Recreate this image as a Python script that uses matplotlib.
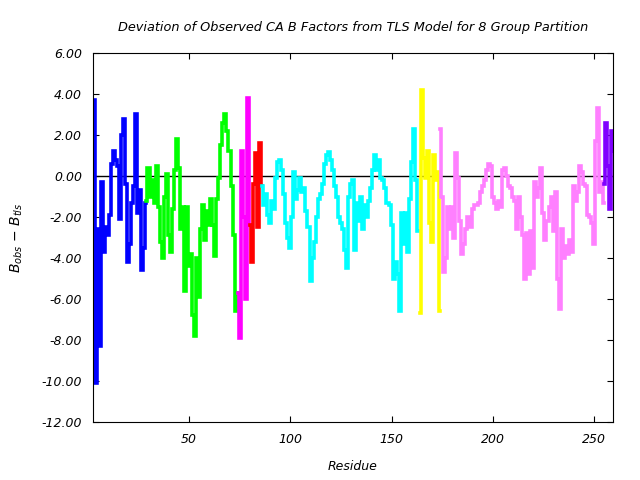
import numpy as np
import matplotlib
matplotlib.use("Agg")
import matplotlib.pyplot as plt

# residue ranges and B_obs - B_tls deviations, one list per TLS group
blue_res = np.arange(3, 30)
blue_dev = [3.7, -10.1, -2.6, -8.3, -0.3, -3.7, -2.5, -2.9, -1.9, 0.6,
            1.2, 0.8, 0.5, -2.1, 2.0, 2.8, -0.4, -4.2, -3.3, -1.3,
            -0.5, 3.0, -1.8, -0.7, -4.6, -3.5, -1.3]

green_res = np.arange(29, 75)
green_dev = [-1.2, 0.4, -1.0, -0.2, -1.3, 0.5, -1.5, -3.2, -4.0, -1.0,
             0.1, -2.9, -3.7, -1.6, 0.3, 1.8, 0.4, -2.6, -1.5, -5.6,
             -1.5, -4.4, -3.8, -6.8, -7.8, -4.0, -5.9, -2.6, -1.4, -3.1,
             -1.7, -2.4, -1.1, -2.4, -3.9, -1.1, -0.1, 1.5, 2.6, 3.0,
             2.2, 1.2, -0.5, -2.9, -6.6, -5.7]

magenta_res = np.arange(74, 81)
magenta_dev = [-5.7, -7.9, 1.2, -2.0, -6.0, 3.8, -2.4]

red_res = np.arange(80, 87)
red_dev = [-2.4, -4.2, -0.4, 1.1, -2.5, 1.6, -0.5]

cyan_res = np.arange(86, 164)
cyan_dev = [-0.5, -1.4, -0.9, -1.9, -2.3, -1.2, -1.6, -0.1, 0.7, 0.8,
            0.3, -0.9, -2.3, -3.0, -3.5, -2.0, 0.2, -1.1, -0.7, -0.1,
            -0.8, -0.6, -1.7, -2.5, -5.1, -4.0, -3.2, -2.0, -1.1, -0.9,
            -0.4, 0.6, 1.0, 1.17, 0.8, 0.3, -0.5, -1.0, -2.0, -2.3,
            -2.6, -3.6, -4.5, -1.0, -0.4, -0.2, -3.6, -1.3, -2.2, -1.0,
            -2.6, -1.4, -2.0, -1.2, -0.6, 0.3, 1.0, 0.3, 0.8, -0.1,
            -0.2, -0.6, -1.3, -1.4, -2.4, -5.0, -4.2, -4.8, -6.6, -1.8,
            -3.3, -1.8, -3.7, -1.1, 0.7, 2.3, -0.2, -2.7]

yellow_res = np.arange(164, 175)
yellow_dev = [-6.7, 4.2, 0.9, -0.1, 1.2, -2.3, -3.2, 1.0, -0.2, 0.2, -6.6]

violet_res = np.arange(174, 256)
violet_dev = [2.3, -1.0, -4.7, -4.0, -1.5, -2.6, -1.5, -3.0, 1.1, -0.1,
              -2.2, -3.8, -3.3, -2.6, -2.0, -2.5, -1.6, -1.4, -1.4, -1.3,
              -0.8, -0.5, -0.2, 0.3, 0.6, 0.5, -1.0, -1.3, -1.6, -1.2,
              -1.5, 0.3, 0.4, 0.0, -0.5, -0.6, -1.0, -1.2, -2.6, -1.0,
              -2.0, -2.9, -5.0, -2.8, -4.8, -2.7, -4.5, -0.3, -1.0, -0.6,
              0.4, -1.8, -3.1, -2.2, -1.5, -1.0, -2.7, -0.8, -5.0, -6.5,
              -2.6, -4.0, -3.4, -3.8, -3.1, -3.7, -0.5, -1.2, -0.8, 0.5,
              0.2, -0.4, -0.5, -1.9, -2.0, -2.3, -3.3, 1.7, 3.3, -0.8,
              -0.3, -1.3]

purple_res = np.arange(255, 261)
purple_dev = [-0.4, 2.6, 0.5, -1.6, 2.2, 1.2]

groups = [
    (blue_res, blue_dev, "#0000ff"),
    (green_res, green_dev, "#00ff00"),
    (magenta_res, magenta_dev, "#ff00ff"),
    (red_res, red_dev, "#ff0000"),
    (cyan_res, cyan_dev, "#00ffff"),
    (yellow_res, yellow_dev, "#ffff00"),
    (violet_res, violet_dev, "#ff80ff"),
    (purple_res, purple_dev, "#8000ff"),
]

fig = plt.figure(figsize=(6.4, 4.8), dpi=100)
ax = fig.add_axes([0.1453, 0.1208, 0.8127, 0.7688])

ax.axhline(0, color="black", lw=1, zorder=1)
for res, dev, col in groups:
    ax.plot(res, dev, color=col, lw=2.6, drawstyle="steps-mid",
            solid_joinstyle="miter", zorder=2)

ax.set_xlim(2.6, 259.4)
ax.set_ylim(-12, 6)
ax.set_xticks([50, 100, 150, 200, 250])
ax.set_yticks(np.arange(-12, 7, 2))
ax.set_yticklabels(["%.2f" % v for v in np.arange(-12, 7, 2)])
ax.tick_params(direction="in", length=4, top=True, right=True,
               labelsize=9, pad=8)
for lab in ax.get_xticklabels() + ax.get_yticklabels():
    lab.set_fontstyle("italic")

ax.set_title("Deviation of Observed CA B Factors from TLS Model for 8 Group Partition",
             fontsize=9.3, style="italic", pad=16)
ax.set_xlabel("Residue", fontsize=9, style="italic", labelpad=10)
ax.set_ylabel(r"$B_{obs}$ $-$ $B_{tls}$", fontsize=10, labelpad=12)

fig.savefig("out.png", dpi=100)
